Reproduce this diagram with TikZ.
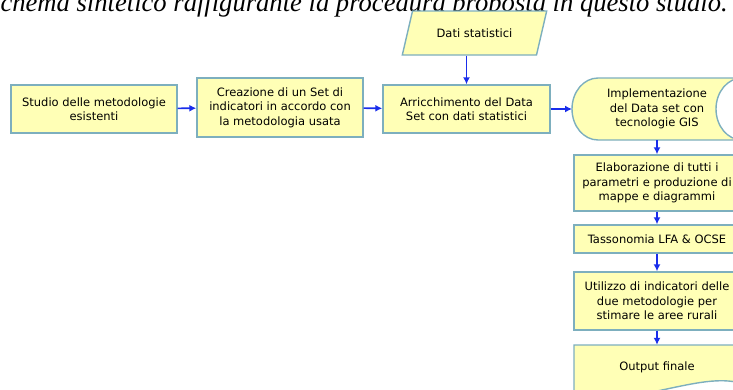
\documentclass[tikz,border=0pt]{standalone}
\usepackage{fontspec}
\setmainfont{Liberation Serif}
\newfontfamily\boxfont{DejaVu Sans}
\usetikzlibrary{shapes.geometric,arrows.meta}
\definecolor{boxfill}{RGB}{255,255,182}
\definecolor{boxedge}{RGB}{125,175,190}
\definecolor{flowblue}{RGB}{25,45,235}

\begin{document}
\begin{tikzpicture}[x=1pt,y=1pt,
    box/.style={draw=boxedge, fill=boxfill, line width=1.4pt, align=center, inner sep=0pt,
      minimum width=166pt, font=\boxfont\fontsize{11.5}{14.5}\selectfont},
    boxtext/.style={align=center, inner sep=0pt, font=\boxfont\fontsize{11.5}{14.5}\selectfont},
    flow/.style={draw=flowblue, line width=1.6pt, -{Latex[length=7pt,width=7pt]}}]
  \useasboundingbox (0,0) rectangle (733,-389);
  \clip (0,0) rectangle (733,-389);

  \node[anchor=base east, inner sep=0pt, font=\fontsize{26.6}{31}\selectfont\itshape] (caption)
    at (728,-11) {Schema sintetico raffigurante la procedura proposta in questo studio.};

  \node[box, minimum height=48pt] (studio) at (94,-109) {Studio delle metodologie\\esistenti};
  \node[box, minimum height=59pt] (creazione) at (280,-107.5)
    {Creazione di un Set di\\indicatori in accordo con\\la metodologia usata};
  \node[box, minimum width=145pt, minimum height=44pt, trapezium, trapezium stretches,
    trapezium left angle=55, trapezium right angle=125] (dati) at (474.5,-33) {Dati statistici};
  \node[box, minimum width=167pt, minimum height=48pt] (arricchimento) at (466.5,-109)
    {Arricchimento del Data\\Set con dati statistici};

  \draw[draw=boxedge, fill=boxfill, line width=1.4pt] (598,-78)
    arc[start angle=90, end angle=270, x radius=26pt, y radius=31pt] -- (742,-140)
    arc[start angle=270, end angle=90, x radius=26pt, y radius=31pt] -- cycle;
  \node[boxtext, minimum height=62pt] (impl) at (657,-109)
    {Implementazione\\del Data set con\\tecnologie GIS};
  \coordinate (implin) at (572,-109);

  \node[box, minimum height=56pt] (elaborazione) at (657,-183)
    {Elaborazione di tutti i\\parametri e produzione di\\mappe e diagrammi};
  \node[box, minimum height=28pt] (tassonomia) at (657,-239) {Tassonomia LFA \& OCSE};
  \node[box, minimum height=58pt] (utilizzo) at (657,-301)
    {Utilizzo di indicatori delle\\due metodologie per\\stimare le aree rurali};

  \draw[draw=boxedge, fill=boxfill, line width=1.4pt] (574,-345) -- (740,-345) -- (740,-383)
    .. controls (700,-372) and (640,-405) .. (574,-398) -- cycle;
  \node[boxtext, minimum height=44pt] (output) at (657,-367) {Output finale};

  \draw[flow] (studio) -- (creazione);
  \draw[flow] (creazione) -- (arricchimento);
  \draw[flow] (dati.south -| arricchimento.north) -- (arricchimento.north);
  \draw[flow] (arricchimento) -- (implin);
  \draw[flow] (impl.south) -- (elaborazione.north);
  \draw[flow] (elaborazione) -- (tassonomia);
  \draw[flow] (tassonomia) -- (utilizzo);
  \draw[flow] (utilizzo.south) -- (output.north);
\end{tikzpicture}
\end{document}
